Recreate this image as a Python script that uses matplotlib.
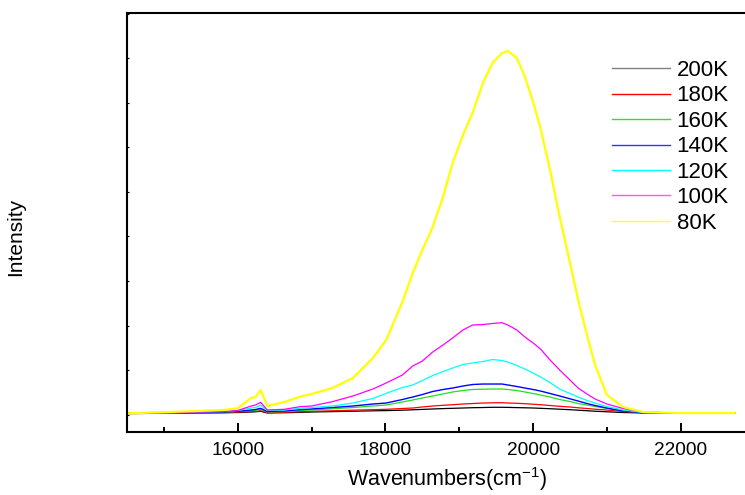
import matplotlib
matplotlib.use("Agg")
import matplotlib.pyplot as plt
from matplotlib.lines import Line2D

plt.rcParams['font.family'] = ['Liberation Sans', 'DejaVu Sans']
plt.rcParams['mathtext.fontset'] = 'custom'
plt.rcParams['mathtext.rm'] = 'Liberation Sans'
plt.rcParams['mathtext.default'] = 'regular'

wavenumber = [14500, 15200, 15800, 16000, 16180, 16240, 16310, 16400, 16630, 16840,
              17000, 17280, 17560, 17830, 18010, 18230, 18370, 18500, 18640, 18780,
              18910, 19050, 19180, 19320, 19450, 19580, 19660, 19780, 19890, 20000,
              20100, 20230, 20360, 20500, 20610, 20730, 20840, 21000, 21220, 21490,
              21990, 22730]

i200 = [22, 29, 38, 45, 56, 61, 72, 34, 40, 49, 56, 65, 74, 83, 88, 97, 106, 115, 124, 133,
        139, 146, 153, 157, 162, 162, 160, 155, 151, 146, 139, 130, 119, 108, 97, 85, 74, 61,
        45, 34, 34, 34]
i180 = [22, 34, 45, 56, 67, 72, 85, 45, 52, 63, 72, 83, 97, 108, 117, 135, 146, 169, 191, 207,
        220, 236, 247, 258, 263, 265, 258, 252, 243, 231, 220, 202, 184, 169, 151, 135, 119, 101,
        67, 40, 34, 34]
i160 = [27, 38, 52, 67, 90, 94, 117, 56, 67, 90, 101, 128, 157, 191, 213, 281, 326, 371, 416, 461,
        506, 539, 562, 568, 573, 573, 562, 539, 506, 472, 438, 393, 337, 292, 247, 213, 180, 135,
        79, 40, 34, 34]
i140 = [27, 40, 56, 72, 101, 112, 139, 67, 79, 108, 124, 157, 191, 236, 258, 337, 393, 449, 517, 562,
        595, 640, 674, 685, 685, 685, 663, 629, 595, 562, 528, 472, 416, 353, 303, 247, 202, 146,
        79, 40, 34, 34]
i120 = [27, 45, 67, 90, 146, 157, 213, 90, 101, 139, 157, 191, 258, 360, 476, 607, 663, 764, 876, 966,
        1045, 1124, 1157, 1191, 1236, 1213, 1180, 1101, 1022, 933, 843, 719, 573, 472, 393, 315, 258, 180,
        101, 45, 34, 34]
i100 = [27, 45, 67, 90, 191, 213, 274, 101, 117, 175, 191, 288, 416, 573, 708, 888, 1090, 1202, 1404, 1562,
        1719, 1899, 2011, 2022, 2045, 2063, 2011, 1899, 1741, 1607, 1472, 1225, 1000, 775, 595, 461, 348, 236,
        135, 56, 34, 34]
i80 = [27, 63, 101, 139, 371, 393, 551, 191, 281, 400, 461, 595, 820, 1270, 1674, 2528, 3180, 3696, 4213, 4887,
       5651, 6280, 6775, 7449, 7899, 8124, 8169, 8011, 7584, 7022, 6438, 5494, 4438, 3404, 2573, 1786, 1112, 438,
       169, 56, 34, 34]

labels = ['200K', '180K', '160K', '140K', '120K', '100K', '80K']
series = [i200, i180, i160, i140, i120, i100, i80]
colors = ['#000000', '#ff0000', '#22dd22', '#0000ff', '#00ffff', '#ff00ff', '#ffff00']
legend_colors = ['#808080', '#ff0000', '#33dd33', '#3333ff', '#00ffff', '#ff55ff', '#ffff33']
widths = [0.9, 0.9, 0.9, 1.0, 0.9, 0.9, 1.6]

fig = plt.figure(figsize=(7.45, 4.95), dpi=100)
ax = fig.add_axes([127/745, 1 - 432/495, 1 - 127/745, (432 - 13.3)/495])

for y, c, lw in zip(series, colors, widths):
    ax.plot(wavenumber, y, color=c, lw=lw)

ax.set_xlim(14500, 22870)
ax.set_ylim(-393, 9015)
ax.set_xticks([16000, 18000, 20000, 22000])
ax.set_xticks([15000, 17000, 19000, 21000], minor=True)
ax.set_yticks(range(0, 9001, 1000))
ax.tick_params(axis='x', which='major', direction='in', length=6.3, width=1.4,
               labelsize=13.7, pad=7.3, top=False)
ax.tick_params(axis='x', which='minor', direction='in', length=3.6, width=1.4, top=False)
ax.tick_params(axis='y', which='major', direction='in', length=1.5, width=0.8,
               labelleft=False, right=False)

for s in ['left', 'bottom', 'top']:
    ax.spines[s].set_linewidth(1.5)
ax.spines['right'].set_visible(False)

ax.set_xlabel('Wavenumbers(cm$^{-1}$)', fontsize=15.5)
ax.xaxis.set_label_coords((447.5 - 127) / 618, -0.080)
ax.set_ylabel('Intensity', fontsize=15)
ax.yaxis.set_label_coords(-0.165, 0.467)

handles = [Line2D([], [], color=c, lw=1.0) for c in legend_colors]
ax.legend(handles, labels, loc='upper left', frameon=False, fontsize=16,
          bbox_to_anchor=(612/745, 1 - 60/495), bbox_transform=fig.transFigure,
          borderpad=0, borderaxespad=0, labelspacing=0.2, handlelength=2.61,
          handletextpad=0.3)

fig.savefig('out.png', dpi=100)
